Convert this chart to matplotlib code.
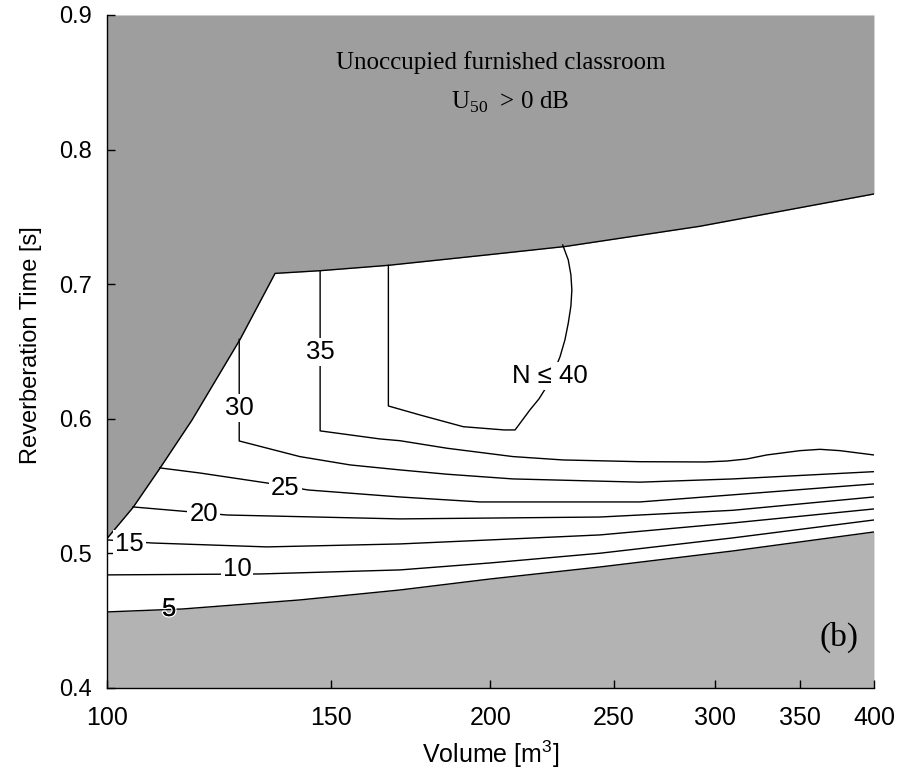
import matplotlib.pyplot as plt
import matplotlib.patheffects as pe
from matplotlib.ticker import NullLocator

plt.rcParams['font.family'] = ['Liberation Sans', 'DejaVu Sans']
plt.rcParams['mathtext.fontset'] = 'custom'
plt.rcParams['mathtext.rm'] = 'Liberation Serif'
plt.rcParams['mathtext.sf'] = 'Liberation Sans'

# boundary of the U50 > 0 dB region (top, dark grey)
upper_V = [100, 104.8, 110.0, 116.6, 127.2, 135.5, 147.0, 166.3, 200, 229, 292, 400]
upper_T = [0.511, 0.534, 0.563, 0.599, 0.659, 0.708, 0.710, 0.714, 0.722, 0.728, 0.743, 0.767]

# lower boundary (N = 5 line, light grey below)
lower_V = [100, 114.7, 141.7, 169.8, 200, 243.8, 310, 400]
lower_T = [0.4565, 0.4587, 0.4654, 0.4728, 0.481, 0.4899, 0.5018, 0.5159]

# iso-N lines
c10_V = [100, 131.9, 169.8, 200, 243.8, 310, 400]
c10_T = [0.484, 0.4847, 0.4877, 0.4929, 0.5001, 0.5115, 0.5248]

c15_V = [100, 108.5, 133.5, 169.8, 200, 243.8, 310, 400]
c15_T = [0.510, 0.5077, 0.5048, 0.507, 0.510, 0.5137, 0.5226, 0.533]

c20_V = [104.8, 124.2, 169.8, 243.8, 310, 400]
c20_T = [0.5345, 0.5285, 0.5256, 0.527, 0.532, 0.5419]

c25_V = [110.0, 118.3, 133.5, 143.8, 169.8, 196.3, 262.0, 310, 400]
c25_T = [0.5635, 0.5597, 0.5523, 0.5471, 0.5419, 0.5382, 0.5382, 0.5435, 0.5516]

c30_V = [127.0, 127.0, 141.7, 155.2, 169.8, 184.9, 208.3, 262.0, 310, 400]
c30_T = [0.659, 0.5835, 0.5719, 0.5657, 0.5620, 0.5588, 0.5553, 0.5529, 0.5553, 0.5607]

c35_V = [147.0, 147.0, 163.8, 169.8, 184.9, 208.3, 228.0, 262.0, 295.0, 306.5, 317.8,
         329.5, 349.9, 362.8, 376.2, 400]
c35_T = [0.710, 0.591, 0.585, 0.5837, 0.5781, 0.5719, 0.5694, 0.5681, 0.5679, 0.5686, 0.5701,
         0.5731, 0.5763, 0.5773, 0.5763, 0.5731]

c40_V = [166.3, 166.3, 176.1, 190.4, 205.0, 209.1, 214.8, 218.3, 221.4, 224.3, 226.8, 228.8,
         230.2, 231.3, 231.7, 231.3, 230.2, 227.9]
c40_T = [0.714, 0.6095, 0.6028, 0.5941, 0.5917, 0.5917, 0.6066, 0.6147, 0.6239, 0.6348, 0.6461, 0.6585,
         0.671, 0.6838, 0.6957, 0.7069, 0.718, 0.7291]

labels = ['5', '10', '15', '20', '25', '30', '35', 'N ≤ 40']
lab_V = [111.9, 126.5, 104.1, 119.1, 138.0, 127.0, 147.0, 222.7]
lab_T = [0.4587, 0.4884, 0.507, 0.5295, 0.5486, 0.608, 0.6496, 0.632]

xticks = [100, 150, 200, 250, 300, 350, 400]
yticks = [0.4, 0.5, 0.6, 0.7, 0.8, 0.9]

fig = plt.figure(figsize=(9.02, 7.71), dpi=100)
ax = fig.add_axes([0.1186, 0.1077, 0.8503, 0.8729])
ax.set_xscale('log')

ax.fill_between(upper_V, upper_T, 0.9, color='#9e9e9e', lw=0, zorder=1)
ax.fill_between(lower_V, 0.4, lower_T, color='#b3b3b3', lw=0, zorder=1)
ax.plot(upper_V, upper_T, color='k', lw=1, zorder=2)
ax.plot(lower_V, lower_T, color='k', lw=1, zorder=2)

for V, T in [(c10_V, c10_T), (c15_V, c15_T), (c20_V, c20_T), (c25_V, c25_T),
             (c30_V, c30_T), (c35_V, c35_T), (c40_V, c40_T)]:
    ax.plot(V, T, color='k', lw=1, zorder=2)

for txt, v, t in zip(labels, lab_V, lab_T):
    if txt == '5':
        # sits on the grey edge: just knock the line out around the glyph
        ax.text(v, t, txt, ha='center', va='center', fontsize=18.5, zorder=4,
                path_effects=[pe.withStroke(linewidth=2, foreground='white'), pe.Normal()])
    else:
        ax.text(v, t, txt, ha='center', va='center', fontsize=18.5, zorder=4,
                bbox=dict(facecolor='white', edgecolor='none', pad=1.5))

ax.text(0.514, 0.9287, 'Unoccupied furnished classroom', transform=ax.transAxes,
        family='Liberation Serif', fontsize=18, ha='center', va='center')
ax.text(0.525, 0.8707, r'U$_{\mathrm{50}}$  > 0 dB', transform=ax.transAxes,
        family='Liberation Serif', fontsize=18, ha='center', va='center')
ax.text(0.954, 0.0758, '(b)', transform=ax.transAxes,
        family='Liberation Serif', fontsize=24, ha='center', va='center')

ax.set_xlim(100, 400)
ax.set_ylim(0.4, 0.9)
ax.set_xticks(xticks)
ax.set_xticklabels([str(x) for x in xticks])
ax.xaxis.set_minor_locator(NullLocator())
ax.set_yticks(yticks)
ax.set_yticklabels(['%.1f' % y for y in yticks])
ax.tick_params(direction='in', length=6, width=1, labelsize=17)
ax.tick_params(axis='x', pad=13, labelsize=18)
ax.tick_params(axis='y', pad=11)

for s in ['top', 'right']:
    ax.spines[s].set_visible(False)
for s in ['left', 'bottom']:
    ax.spines[s].set_linewidth(1)

ax.set_xlabel(r'Volume [m$^{\mathsf{3}}$]', fontsize=18)
ax.set_ylabel('Reverberation Time [s]', fontsize=17)
ax.xaxis.set_label_coords(0.5, -0.075)
ax.yaxis.set_label_coords(-0.085, 0.51)

fig.savefig('out.png', dpi=100)
